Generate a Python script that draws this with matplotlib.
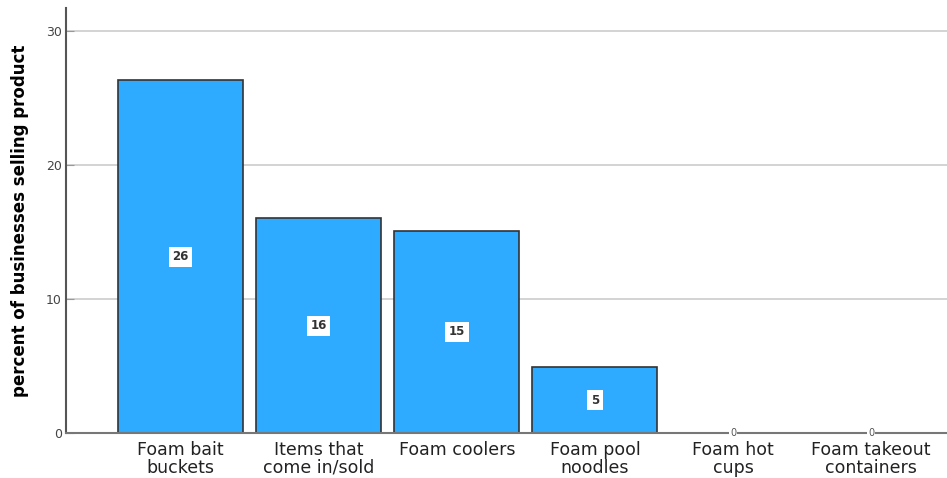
import matplotlib.pyplot as plt

categories = ["Foam bait\nbuckets", "Items that\ncome in/sold", "Foam coolers",
              "Foam pool\nnoodles", "Foam hot\ncups", "Foam takeout\ncontainers"]
values = [26.3, 16.0, 15.1, 4.9, 0, 0]
labels = ["26", "16", "15", "5", "0", "0"]
yticks = [0, 10, 20, 30]

fig = plt.figure(figsize=(9.47, 4.78), dpi=100)
ax = fig.add_axes([66 / 947, 45 / 478, 881 / 947, 425 / 478])

x = range(len(categories))
edges = ["#333333" if v > 0 else "none" for v in values]
ax.bar(x, values, width=0.906, color="#2EAAFF", edgecolor=edges, linewidth=1.2, zorder=3)

for i, v in enumerate(values):
    if v > 0:
        ax.text(i, v / 2, labels[i], ha="center", va="center", fontsize=8.5, fontweight="bold",
                color="#333333", zorder=4,
                bbox=dict(boxstyle="square,pad=0.3", fc="white", ec="none"))
    else:
        ax.text(i, 0, labels[i], ha="center", va="center", fontsize=7, color="#555555", zorder=4,
                bbox=dict(boxstyle="square,pad=0.1", fc="white", ec="none"))

ax.set_xlim(-0.83, 5.55)
ax.set_ylim(0, 31.7)
ax.set_yticks(yticks)
ax.set_yticklabels([str(t) for t in yticks], fontsize=9, color="#444444")
ax.set_xticks(list(x))
ax.set_xticklabels(categories, fontsize=12.5, color="#222222", linespacing=0.95)
ax.tick_params(axis="x", length=0, pad=6)
ax.tick_params(axis="y", length=6, width=0.8, color="#999999", pad=3, direction="in")

ax.grid(axis="y", color="#cccccc", linewidth=1.2, zorder=0)
for s in ["top", "right"]:
    ax.spines[s].set_visible(False)
ax.spines["left"].set_color("#555555")
ax.spines["left"].set_linewidth(1.5)
ax.spines["bottom"].set_color("#777777")
ax.spines["bottom"].set_linewidth(1.5)
ax.spines["bottom"].set_zorder(3.5)

ax.set_ylabel("percent of businesses selling product", fontsize=12, fontweight="bold", labelpad=12)

fig.savefig("out.png", dpi=100)
